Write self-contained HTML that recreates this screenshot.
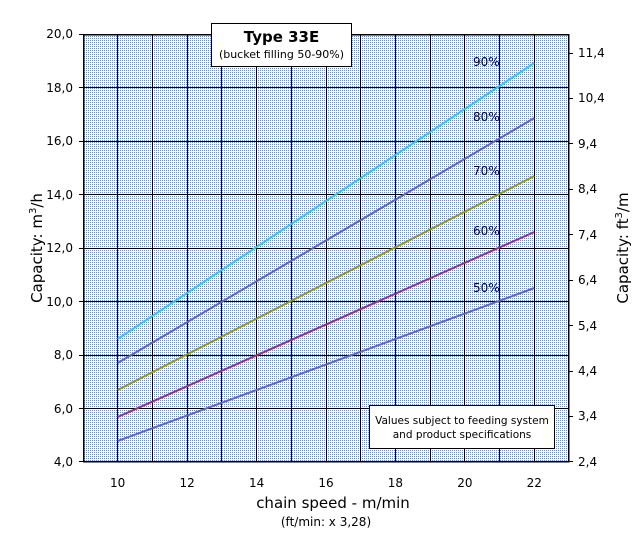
<!DOCTYPE html>
<html><head><meta charset="utf-8"><style>
html,body{margin:0;padding:0;background:#fff;width:637px;height:540px;overflow:hidden}
text{font-family:"DejaVu Sans","Liberation Sans",sans-serif;fill:#000}
</style></head><body>
<svg width="637" height="540" xmlns="http://www.w3.org/2000/svg" shape-rendering="crispEdges">
<defs>
<pattern id="dots" width="2" height="2" patternUnits="userSpaceOnUse">
<rect width="2" height="2" fill="#ffffff"/>
<rect width="1" height="1" fill="#6f88c8"/>
</pattern>
</defs>
<rect x="83" y="34" width="486" height="428" fill="url(#dots)"/>
<g stroke="#000" stroke-width="1">
<line x1="117.5" y1="34" x2="117.5" y2="462"/><line x1="152.5" y1="34" x2="152.5" y2="462"/>
<line x1="187.5" y1="34" x2="187.5" y2="462"/><line x1="221.5" y1="34" x2="221.5" y2="462"/>
<line x1="256.5" y1="34" x2="256.5" y2="462"/><line x1="291.5" y1="34" x2="291.5" y2="462"/>
<line x1="326.5" y1="34" x2="326.5" y2="462"/><line x1="360.5" y1="34" x2="360.5" y2="462"/>
<line x1="395.5" y1="34" x2="395.5" y2="462"/><line x1="430.5" y1="34" x2="430.5" y2="462"/>
<line x1="464.5" y1="34" x2="464.5" y2="462"/><line x1="499.5" y1="34" x2="499.5" y2="462"/>
<line x1="534.5" y1="34" x2="534.5" y2="462"/>
<line x1="83" y1="87.5" x2="569" y2="87.5"/><line x1="83" y1="141.5" x2="569" y2="141.5"/>
<line x1="83" y1="194.5" x2="569" y2="194.5"/><line x1="83" y1="248.5" x2="569" y2="248.5"/>
<line x1="83" y1="301.5" x2="569" y2="301.5"/><line x1="83" y1="355.5" x2="569" y2="355.5"/>
<line x1="83" y1="408.5" x2="569" y2="408.5"/>
</g>
<rect x="83.5" y="34.5" width="485" height="427" fill="none" stroke="#000" stroke-width="1.5"/>
<g stroke="#000" stroke-width="1">
<line x1="79" y1="34.5" x2="83" y2="34.5"/><line x1="79" y1="87.5" x2="83" y2="87.5"/><line x1="79" y1="141.5" x2="83" y2="141.5"/><line x1="79" y1="194.5" x2="83" y2="194.5"/><line x1="79" y1="248.5" x2="83" y2="248.5"/><line x1="79" y1="301.5" x2="83" y2="301.5"/><line x1="79" y1="355.5" x2="83" y2="355.5"/><line x1="79" y1="408.5" x2="83" y2="408.5"/><line x1="79" y1="461.5" x2="83" y2="461.5"/>
<line x1="569" y1="461.5" x2="573" y2="461.5"/><line x1="569" y1="416.5" x2="573" y2="416.5"/><line x1="569" y1="371.5" x2="573" y2="371.5"/><line x1="569" y1="325.5" x2="573" y2="325.5"/><line x1="569" y1="280.5" x2="573" y2="280.5"/><line x1="569" y1="234.5" x2="573" y2="234.5"/><line x1="569" y1="189.5" x2="573" y2="189.5"/><line x1="569" y1="143.5" x2="573" y2="143.5"/><line x1="569" y1="98.5" x2="573" y2="98.5"/><line x1="569" y1="53.5" x2="573" y2="53.5"/>
</g>
<g stroke-width="2" shape-rendering="auto">
<line x1="117.7" y1="339" x2="534.3" y2="63" stroke="#33cccc"/>
<line x1="117.7" y1="363" x2="534.3" y2="118" stroke="#666699"/>
<line x1="117.7" y1="390" x2="534.3" y2="176" stroke="#999900"/>
<line x1="117.7" y1="417" x2="534.3" y2="232" stroke="#993366"/>
<line x1="117.7" y1="441" x2="534.3" y2="288" stroke="#6666aa"/>
</g>
<g font-size="12">
<text x="473" y="66">90%</text><text x="473" y="121">80%</text><text x="473" y="175">70%</text><text x="473" y="235">60%</text><text x="473" y="292">50%</text>
</g>
<g font-size="12" text-anchor="end">
<text x="73" y="38">20,0</text><text x="73" y="92">18,0</text><text x="73" y="145">16,0</text><text x="73" y="199">14,0</text><text x="73" y="252">12,0</text><text x="73" y="306">10,0</text><text x="73" y="359">8,0</text><text x="73" y="413">6,0</text><text x="73" y="466">4,0</text>
</g>
<g font-size="12">
<text x="578" y="466">2,4</text><text x="578" y="420">3,4</text><text x="578" y="375">4,4</text><text x="578" y="330">5,4</text><text x="578" y="284">6,4</text><text x="578" y="239">7,4</text><text x="578" y="193">8,4</text><text x="578" y="148">9,4</text><text x="578" y="102">10,4</text><text x="578" y="57">11,4</text>
</g>
<g font-size="12" text-anchor="middle">
<text x="117.7" y="487">10</text><text x="187.1" y="487">12</text><text x="256.6" y="487">14</text><text x="326" y="487">16</text><text x="395.4" y="487">18</text><text x="464.9" y="487">20</text><text x="534.3" y="487">22</text>
</g>
<text x="333" y="508" font-size="15" text-anchor="middle">chain speed - m/min</text>
<text x="326" y="526" font-size="12" text-anchor="middle">(ft/min: x 3,28)</text>
<text transform="translate(42,248) rotate(-90)" font-size="15" text-anchor="middle">Capacity:  m<tspan font-size="10" dy="-6">3</tspan><tspan dy="6">/h</tspan></text>
<text transform="translate(628,248) rotate(-90)" font-size="15" text-anchor="middle">Capacity:   ft<tspan font-size="10" dy="-6">3</tspan><tspan dy="6">/m</tspan></text>
<rect x="211.5" y="23.5" width="140" height="43" fill="#fff" stroke="#000"/>
<text x="281.5" y="42" font-size="15" font-weight="bold" text-anchor="middle">Type 33E</text>
<text x="281.5" y="58" font-size="11" text-anchor="middle">(bucket filling 50-90%)</text>
<rect x="369.5" y="405.5" width="185" height="43" fill="#fff" stroke="#000"/>
<text x="462" y="424" font-size="10.5" text-anchor="middle">Values subject to feeding system</text>
<text x="462" y="438" font-size="10.5" text-anchor="middle">and product specifications</text>
</svg>
</body></html>
